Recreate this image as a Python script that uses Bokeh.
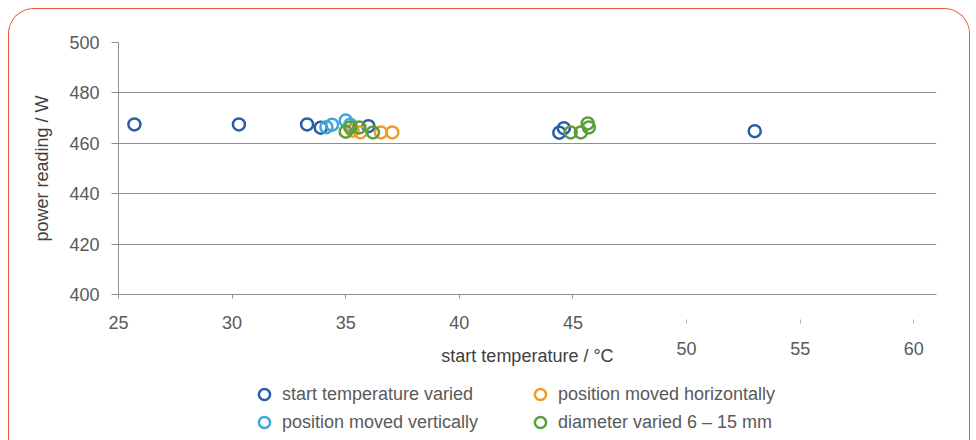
from bokeh.plotting import figure
from bokeh.layouts import column
from bokeh.models import (LinearAxis, FixedTicker, Range1d, Legend, LegendItem, Grid)
from bokeh.embed import file_html
from bokeh.resources import INLINE

# ---- data ----
temp_varied_x = [25.7, 30.3, 33.3, 33.9, 36.0, 44.4, 44.6, 53.0]
temp_varied_y = [467.5, 467.5, 467.5, 466.2, 466.8, 464.2, 466.0, 464.8]
vert_x = [34.15, 34.4, 35.0, 35.2]
vert_y = [466.4, 467.4, 469.0, 467.4]
horiz_x = [35.3, 35.65, 36.55, 37.05]
horiz_y = [465.0, 464.3, 464.3, 464.3]
diam_x = [35.0, 35.2, 35.6, 36.2, 44.9, 45.35, 45.65, 45.7]
diam_y = [464.6, 466.3, 466.3, 464.3, 464.3, 464.3, 467.9, 466.3]

x_ticks_top = [25, 30, 35, 40, 45]
x_ticks_low = [50, 55, 60]
y_ticks = [400, 420, 440, 460, 480, 500]

series_labels = ["start temperature varied", "position moved vertically",
                 "position moved horizontally", "diameter varied 6 – 15 mm"]
colors = ["#2a5ca8", "#3ea6dd", "#f29b22", "#5b9e3a"]

FONT = "Liberation Sans"
FS = "18px"
TXT = "#595959"
GRID = "#8f8f8f"

p = figure(width=960, height=364, output_backend="svg", toolbar_location=None,
           x_range=Range1d(25, 61), y_range=Range1d(400, 500),
           min_border_left=109, min_border_right=33, min_border_top=33,
           min_border_bottom=79, x_axis_type=None, y_axis_type=None)
p.outline_line_color = None
p.background_fill_color = "white"
p.border_fill_color = "white"

# y axis
yax = LinearAxis(ticker=FixedTicker(ticks=y_ticks), axis_label="power reading / W")
yax.axis_line_color = GRID
yax.major_tick_line_color = GRID
yax.major_tick_out = 7
yax.major_tick_in = 0
yax.minor_tick_line_color = None
yax.major_label_text_font = FONT
yax.major_label_text_font_size = FS
yax.major_label_text_color = TXT
yax.major_label_standoff = 12
yax.axis_label_text_font = FONT
yax.axis_label_text_font_size = FS
yax.axis_label_text_font_style = "normal"
yax.axis_label_text_color = "#404040"
yax.axis_label_standoff = 14
p.add_layout(yax, "left")

# x axis (upper labels)
xax = LinearAxis(ticker=FixedTicker(ticks=x_ticks_top))
xax.axis_line_color = GRID
xax.major_tick_line_color = GRID
xax.major_tick_out = 4
xax.major_tick_in = 0
xax.minor_tick_line_color = None
xax.major_label_text_font = FONT
xax.major_label_text_font_size = FS
xax.major_label_text_color = TXT
xax.major_label_standoff = 17
p.add_layout(xax, "below")

# x axis (lower, displaced labels) carrying the axis title
xax2 = LinearAxis(ticker=FixedTicker(ticks=x_ticks_low), axis_label="start temperature / °C")
xax2.axis_line_color = None
xax2.major_tick_line_color = "#b0b0b0"
xax2.major_tick_in = 12
xax2.major_tick_out = -8
xax2.minor_tick_line_color = None
xax2.major_label_text_font = FONT
xax2.major_label_text_font_size = FS
xax2.major_label_text_color = TXT
xax2.major_label_standoff = 10
xax2.axis_label_text_font = FONT
xax2.axis_label_text_font_size = FS
xax2.axis_label_text_font_style = "normal"
xax2.axis_label_text_color = "#404040"
xax2.axis_label_standoff = -12
p.add_layout(xax2, "below")

# grid
p.add_layout(Grid(dimension=1, ticker=FixedTicker(ticks=y_ticks),
                  grid_line_color=GRID, grid_line_width=1))

kw = dict(marker="circle", size=12, fill_color=None, line_width=2.5)
p.scatter(temp_varied_x, temp_varied_y, line_color=colors[0], **kw)
p.scatter(vert_x, vert_y, line_color=colors[1], **kw)
p.scatter(horiz_x, horiz_y, line_color=colors[2], **kw)
p.scatter(diam_x, diam_y, line_color=colors[3], **kw)

# legend strip (separate figure so nothing is clipped)
q = figure(width=960, height=68, output_backend="svg", toolbar_location=None,
           x_range=Range1d(0, 1), y_range=Range1d(0, 1),
           min_border=0, x_axis_type=None, y_axis_type=None)
q.outline_line_color = None
q.xgrid.visible = False
q.ygrid.visible = False
nan = float("nan")
lr = [q.scatter([nan], [nan], marker="circle", size=12, fill_color=None, line_width=2.5,
                line_color=c) for c in colors]


def mk_legend(items, loc):
    lg = Legend(items=items, location=loc, orientation="vertical")
    lg.border_line_color = None
    lg.background_fill_alpha = 0
    lg.padding = 0
    lg.margin = 0
    lg.spacing = 0
    lg.glyph_width = 28
    lg.glyph_height = 28
    lg.label_height = 28
    lg.label_standoff = 4
    lg.label_text_font = FONT
    lg.label_text_font_size = FS
    lg.label_text_color = TXT
    return lg

q.add_layout(mk_legend([LegendItem(label=series_labels[0], renderers=[lr[0]]),
                        LegendItem(label=series_labels[1], renderers=[lr[1]])], (132, 5)))
q.add_layout(mk_legend([LegendItem(label=series_labels[2], renderers=[lr[2]]),
                        LegendItem(label=series_labels[3], renderers=[lr[3]])], (408, 5)))

layout = column(p, q, spacing=0)
layout.margin = (8, 0, 0, 8)
layout.styles = {"border": "1.5px solid #e8543f", "border-bottom": "none",
                 "border-radius": "26px 26px 0 0", "overflow": "hidden"}

open("out.html", "w").write(file_html(layout, INLINE))
